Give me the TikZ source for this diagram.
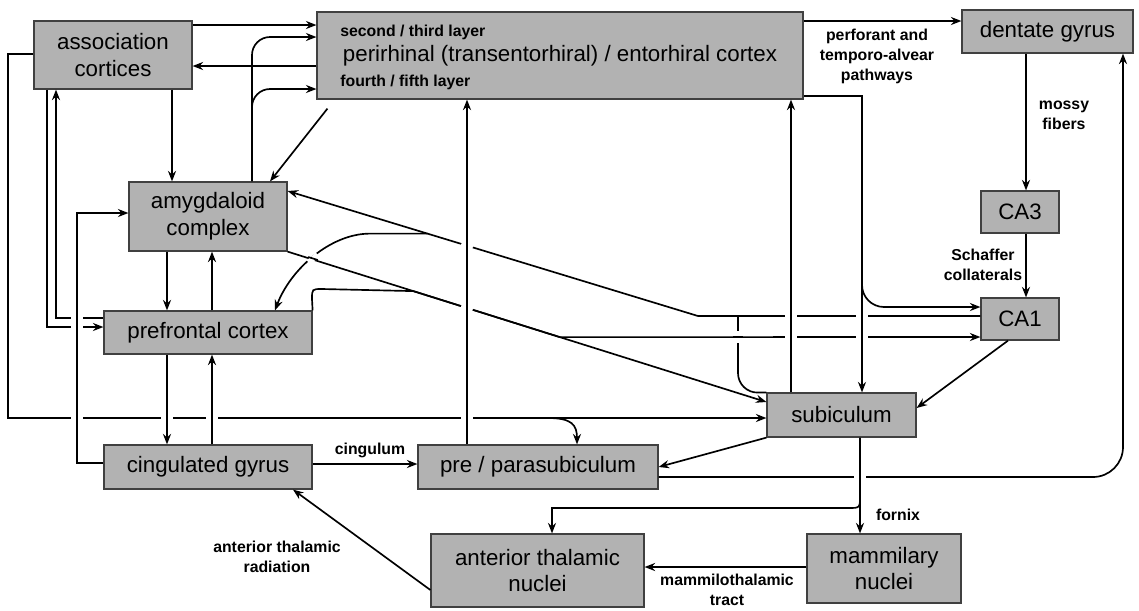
\documentclass[tikz,border=0pt]{standalone}
\usepackage{fontspec}
\setmainfont{Liberation Sans}
\usepackage{tikz}
\usetikzlibrary{arrows.meta,calc,positioning}

\tikzset{
  region/.style={draw=black!75, fill=black!30, line width=0.7pt, inner sep=0pt,
    align=center, font=\fontsize{12.7}{15.2}\selectfont},
  tract/.style={align=center, inner sep=0pt, font=\bfseries\fontsize{9}{11.4}\selectfont},
  wire/.style={line width=0.95pt},
  >={Stealth[length=6pt,width=4.6pt,inset=2pt]}
}

% gap in a line that passes under another one
\newcommand{\linehop}[3]{%
  \draw[white, line width=3pt] ($(#1)+(#2)$) -- ($(#1)-(#2)$);
  \draw[wire] ($(#1)+(#3)$) -- ($(#1)-(#3)$);}

\begin{document}
\begin{tikzpicture}[x=0.02cm, y=-0.02cm]
\useasboundingbox (0,0) rectangle (1139,610);

% regions
\node[region, minimum width=3.16cm, minimum height=1.36cm] (assoc) at (113,55) {association\\cortices};
\node[region, minimum width=9.72cm, minimum height=1.74cm] (peri) at (560,55.5) {perirhinal (transentorhiral) / entorhiral cortex};
\node[tract, anchor=west] (layerup) at (340,32) {second / third layer};
\node[tract, anchor=west] (layerdown) at (340,82) {fourth / fifth layer};
\node[region, minimum width=3.42cm, minimum height=0.86cm] (dentate) at (1047.5,31.5) {dentate gyrus};
\node[region, minimum width=3.16cm, minimum height=1.38cm] (amyg) at (208,216.5) {amygdaloid\\complex};
\node[region, minimum width=4.16cm, minimum height=0.86cm] (pref) at (208,332.5) {prefrontal cortex};
\node[region, minimum width=4.16cm, minimum height=0.88cm] (cing) at (208,467) {cingulated gyrus};
\node[region, minimum width=4.8cm, minimum height=0.88cm] (prepara) at (538,467) {pre / parasubiculum};
\node[region, minimum width=4.26cm, minimum height=1.46cm] (antthal) at (537.5,570.5) {anterior thalamic\\nuclei};
\node[region, minimum width=3.08cm, minimum height=1.38cm] (mamm) at (884,568.5) {mammilary\\nuclei};
\node[region, minimum width=2.98cm, minimum height=0.88cm] (subic) at (841.5,415) {subiculum};
\node[region, minimum width=1.56cm, minimum height=0.84cm] (ca3) at (1020,212) {CA3};
\node[region, minimum width=1.56cm, minimum height=0.84cm] (ca1) at (1020,319) {CA1};

% tract names
\node[tract] (perforant) at (877,56) {perforant and\\temporo-alvear\\pathways};
\node[tract] (mossy) at (1064,115) {mossy\\fibers};
\node[tract] (schaffer) at (983,265) {Schaffer\\collaterals};
\node[tract] (cingulum) at (370,450) {cingulum};
\node[tract] (fornix) at (898,515) {fornix};
\node[tract] (mtract) at (727,590) {mammilothalamic\\tract};
\node[tract] (radiation) at (277,557) {anterior thalamic\\radiation};

% cortex
\draw[wire,->] (assoc.east |- 0,25) -- (peri.west |- 0,25);
\draw[wire,->] (peri.west |- 0,66) -- (assoc.east |- 0,66);
\draw[wire,->] (assoc.south -| 172,0) -- (amyg.north -| 172,0);
\draw[wire,->,rounded corners=0.36cm] (amyg.north -| 252,0) -- (252,37) -- (peri.west |- 0,37);
\draw[wire,->,rounded corners=0.36cm] (252,112) -- (252,89) -- (peri.west |- 0,89);
\draw[wire,->] ([shift={(11,9)}]peri.south west) -- (amyg.north -| 270,0);

% left side
\draw[wire,->] (pref.west |- 0,318) -- (56,318) -- (assoc.south -| 56,0);
\draw[wire,->] (assoc.south -| 47,0) -- (47,327) -- (pref.west |- 0,327);
\draw[wire,->] (assoc.west |- 0,54) -- (8,54) -- (8,418) -- (subic.west |- 0,418);
\draw[wire,->] (548,418) .. controls (572,418) and (577,425) .. (prepara.north -| 577,0);
\draw[wire,->] (cing.west |- 0,463) -- (77,463) -- (77,213) -- (amyg.west |- 0,213);
\draw[wire,->] (amyg.south -| 167,0) -- (pref.north -| 167,0);
\draw[wire,->] (pref.north -| 212,0) -- (amyg.south -| 212,0);
\draw[wire,->] (pref.south -| 167,0) -- (cing.north -| 167,0);
\draw[wire,->] (cing.north -| 212,0) -- (pref.south -| 212,0);

% bottom
\draw[wire,->] (cing.east |- 0,464) -- (prepara.west |- 0,464);
\draw[wire,->] (prepara.north -| 467,0) -- (peri.south -| 467,0);
\draw[wire,->] (subic.south west) -- (prepara.east);
\draw[wire,->,rounded corners=0.6cm] (prepara.east |- 0,477) -- (1123,477) -- (dentate.south -| 1123,0);
\draw[wire,->] (subic.south -| 860,0) -- (mamm.north -| 860,0);
\draw[wire,->] (subic.south -| 860,0) -- (860,496) .. controls (860,508) .. (848,508) -- (552,508) -- (antthal.north -| 552,0);
\draw[wire,->] (mamm.west |- 0,567) -- (antthal.east |- 0,567);
\draw[wire,->] (antthal.west |- 0,590) -- (cing.south -| 293,0);

% hippocampus
\draw[wire,->] (peri.east |- 0,21) -- (dentate.west |- 0,21);
\draw[wire,->] (dentate.south -| 1026,0) -- (ca3.north -| 1026,0);
\draw[wire,->] (ca3.south -| 1026,0) -- (ca1.north -| 1026,0);
\draw[wire,->] (ca1.south -| 1008,0) -- (subic.east |- 0,408);
\draw[wire,->] (subic.north -| 791,0) -- (peri.south -| 791,0);
\draw[wire,->] (peri.east |- 0,96) -- (862,96) -- (subic.north -| 862,0);
\draw[wire,->,rounded corners=0.44cm] (862,260) -- (862,307) -- (ca1.west |- 0,307);

% through the middle
\draw[wire,->] (ca1.west |- 0,316) -- (698,316) -- (amyg.east |- 0,191);
\draw[wire,rounded corners=0.4cm] (subic.north west) -- (738,393) -- (738,316);
\draw[wire,->] ($(698,316)!0.659!(amyg.east |- 0,191)$) -- (370,233.6) .. controls (330,233.6) and (290,270) .. (pref.north -| 275,0);
\draw[wire,->] (amyg.south east) -- (subic.west |- 0,402);
\draw[wire,->] (pref.north east) -- (312,299) .. controls (312,289) .. (322,289) -- ($(amyg.south east)!0.2625!(subic.west |- 0,402)$) -- ($(amyg.south east)!0.56875!(subic.west |- 0,402)$) -- (ca1.west |- 0,337);

% crossings
\linehop{77,318}{6,0}{0,4}
\linehop{77,327}{6,0}{0,4}
\linehop{77,418}{6,0}{0,5}
\linehop{167,418}{6,0}{0,5}
\linehop{212,418}{6,0}{0,5}
\linehop{467,418}{6,0}{0,5}
\linehop{467,245.7}{5.7,1.75}{0,5}
\linehop{467,307.6}{5.7,1.8}{0,5}
\linehop{313,258.5}{-4.6,3.8}{4.8,1.5}
\linehop{791,316}{6,0}{0,5}
\linehop{862,316}{6,0}{0,5}
\linehop{791,337}{6,0}{0,5}
\linehop{862,337}{6,0}{0,5}
\linehop{738,337}{0,6}{5,0}
\linehop{860,477}{6,0}{0,5}
\end{tikzpicture}
\end{document}
